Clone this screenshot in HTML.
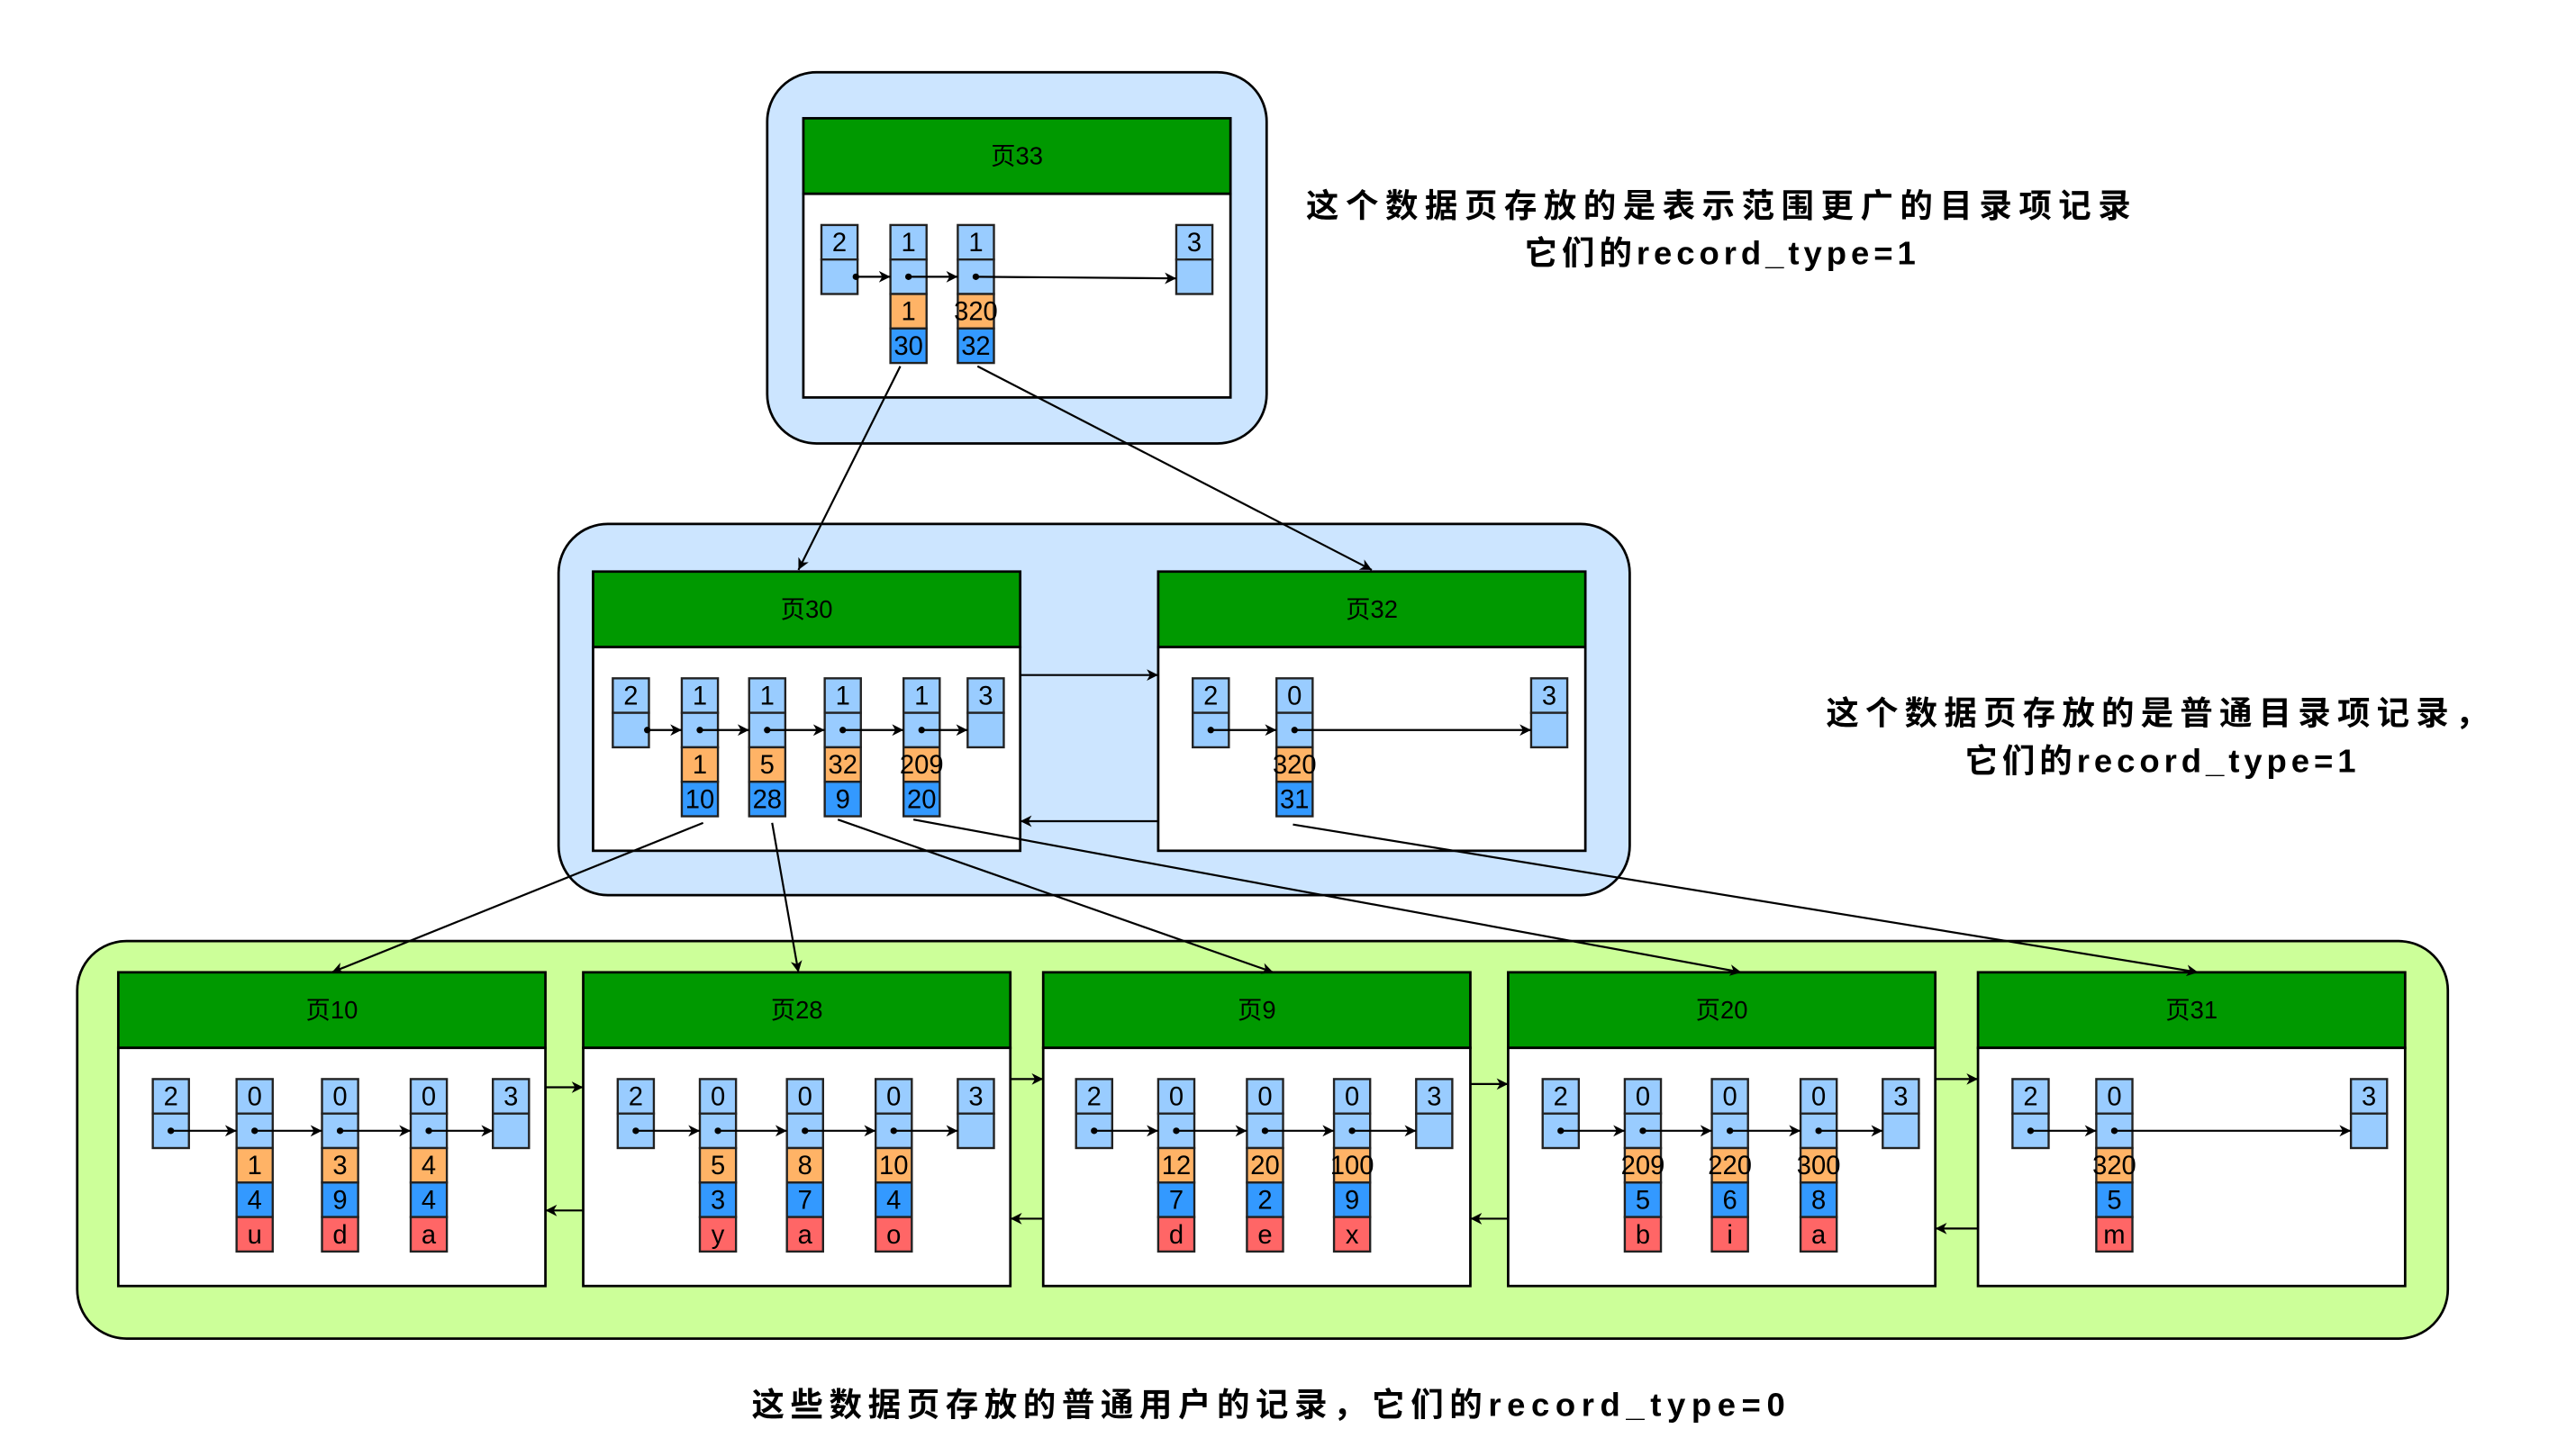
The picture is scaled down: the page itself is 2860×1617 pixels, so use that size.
<!DOCTYPE html>
<html><head><meta charset="utf-8"><style>
html,body{margin:0;padding:0;background:#fff;}
svg{display:block;}
text{font-family:"Liberation Sans","Noto Sans CJK SC",sans-serif;}
.n{font-size:16px;text-anchor:middle;fill:#000;}
.h{font-size:15px;text-anchor:middle;fill:#000;}
.t{font-size:20px;font-weight:bold;text-anchor:middle;fill:#000;}
.lb{fill:#99ccff;stroke:#222;stroke-width:1.3;}
.or{fill:#ffb366;stroke:#222;stroke-width:1.3;}
.bl{fill:#3399ff;stroke:#222;stroke-width:1.3;}
.rd{fill:#ff6666;stroke:#222;stroke-width:1.3;}
.ln{stroke:#000;stroke-width:1.2;fill:none;}
</style></head><body>
<svg width="2860" height="1617" viewBox="0 0 1568 886.5" preserveAspectRatio="none" xmlns="http://www.w3.org/2000/svg">
<defs><marker id="a" markerWidth="8" markerHeight="8" refX="7" refY="4" orient="auto" markerUnits="userSpaceOnUse"><path d="M0,0.5 L7,4 L0,7.5 L2,4 z" fill="#000"/></marker></defs>

<rect x="467" y="44" width="304" height="226" rx="30" fill="#cce5ff" stroke="#000" stroke-width="1.5"/>
<rect x="340" y="319" width="652" height="226" rx="30" fill="#cce5ff" stroke="#000" stroke-width="1.5"/>
<rect x="47" y="573" width="1443" height="242" rx="30" fill="#ccff99" stroke="#000" stroke-width="1.5"/>

<g stroke="#000" stroke-width="1.5">
<rect x="489" y="72" width="260" height="46" fill="#009900"/><rect x="489" y="118" width="260" height="124" fill="#fff"/>
<rect x="361" y="348" width="260" height="46" fill="#009900"/><rect x="361" y="394" width="260" height="124" fill="#fff"/>
<rect x="705" y="348" width="260" height="46" fill="#009900"/><rect x="705" y="394" width="260" height="124" fill="#fff"/>
<rect x="72" y="592" width="260" height="46" fill="#009900"/><rect x="72" y="638" width="260" height="145" fill="#fff"/>
<rect x="355" y="592" width="260" height="46" fill="#009900"/><rect x="355" y="638" width="260" height="145" fill="#fff"/>
<rect x="635" y="592" width="260" height="46" fill="#009900"/><rect x="635" y="638" width="260" height="145" fill="#fff"/>
<rect x="918" y="592" width="260" height="46" fill="#009900"/><rect x="918" y="638" width="260" height="145" fill="#fff"/>
<rect x="1204" y="592" width="260" height="46" fill="#009900"/><rect x="1204" y="638" width="260" height="145" fill="#fff"/>
</g>
<text class="h" x="619" y="100">页33</text>
<text class="h" x="491" y="376">页30</text>
<text class="h" x="835" y="376">页32</text>
<text class="h" x="202" y="620">页10</text>
<text class="h" x="485" y="620">页28</text>
<text class="h" x="765" y="620">页9</text>
<text class="h" x="1048" y="620">页20</text>
<text class="h" x="1334" y="620">页31</text>

<g>
<rect class="lb" x="500" y="137" width="22" height="21"/><rect class="lb" x="500" y="158" width="22" height="21"/>
<rect class="lb" x="542" y="137" width="22" height="21"/><rect class="lb" x="542" y="158" width="22" height="21"/><rect class="or" x="542" y="179" width="22" height="21"/><rect class="bl" x="542" y="200" width="22" height="21"/>
<rect class="lb" x="583" y="137" width="22" height="21"/><rect class="lb" x="583" y="158" width="22" height="21"/><rect class="or" x="583" y="179" width="22" height="21"/><rect class="bl" x="583" y="200" width="22" height="21"/>
<rect class="lb" x="716" y="137" width="22" height="21"/><rect class="lb" x="716" y="158" width="22" height="21"/>
</g>
<text class="n" x="511" y="153">2</text><text class="n" x="553" y="153">1</text><text class="n" x="594" y="153">1</text><text class="n" x="727" y="153">3</text>
<text class="n" x="553" y="195">1</text><text class="n" x="594" y="195">320</text>
<text class="n" x="553" y="216">30</text><text class="n" x="594" y="216">32</text>
<g fill="#000"><circle cx="521" cy="168.5" r="2"/><circle cx="553" cy="168.5" r="2"/><circle cx="594" cy="168.5" r="2"/></g>
<g class="ln" marker-end="url(#a)">
<line x1="521" y1="168.5" x2="542" y2="168.5"/><line x1="553" y1="168.5" x2="583" y2="168.5"/><line x1="594" y1="168.5" x2="716" y2="169.5"/>
</g>

<g>
<rect class="lb" x="373" y="413" width="22" height="21"/><rect class="lb" x="373" y="434" width="22" height="21"/>
<rect class="lb" x="415" y="413" width="22" height="21"/><rect class="lb" x="415" y="434" width="22" height="21"/><rect class="or" x="415" y="455" width="22" height="21"/><rect class="bl" x="415" y="476" width="22" height="21"/>
<rect class="lb" x="456" y="413" width="22" height="21"/><rect class="lb" x="456" y="434" width="22" height="21"/><rect class="or" x="456" y="455" width="22" height="21"/><rect class="bl" x="456" y="476" width="22" height="21"/>
<rect class="lb" x="502" y="413" width="22" height="21"/><rect class="lb" x="502" y="434" width="22" height="21"/><rect class="or" x="502" y="455" width="22" height="21"/><rect class="bl" x="502" y="476" width="22" height="21"/>
<rect class="lb" x="550" y="413" width="22" height="21"/><rect class="lb" x="550" y="434" width="22" height="21"/><rect class="or" x="550" y="455" width="22" height="21"/><rect class="bl" x="550" y="476" width="22" height="21"/>
<rect class="lb" x="589" y="413" width="22" height="21"/><rect class="lb" x="589" y="434" width="22" height="21"/>
</g>
<text class="n" x="384" y="429">2</text><text class="n" x="426" y="429">1</text><text class="n" x="467" y="429">1</text><text class="n" x="513" y="429">1</text><text class="n" x="561" y="429">1</text><text class="n" x="600" y="429">3</text>
<text class="n" x="426" y="471">1</text><text class="n" x="467" y="471">5</text><text class="n" x="513" y="471">32</text><text class="n" x="561" y="471">209</text>
<text class="n" x="426" y="492">10</text><text class="n" x="467" y="492">28</text><text class="n" x="513" y="492">9</text><text class="n" x="561" y="492">20</text>
<g fill="#000"><circle cx="394" cy="444.5" r="2"/><circle cx="426" cy="444.5" r="2"/><circle cx="467" cy="444.5" r="2"/><circle cx="513" cy="444.5" r="2"/><circle cx="561" cy="444.5" r="2"/></g>
<g class="ln" marker-end="url(#a)">
<line x1="394" y1="444.5" x2="415" y2="444.5"/><line x1="426" y1="444.5" x2="456" y2="444.5"/><line x1="467" y1="444.5" x2="502" y2="444.5"/><line x1="513" y1="444.5" x2="550" y2="444.5"/><line x1="561" y1="444.5" x2="589" y2="444.5"/>
</g>

<g>
<rect class="lb" x="726" y="413" width="22" height="21"/><rect class="lb" x="726" y="434" width="22" height="21"/>
<rect class="lb" x="777" y="413" width="22" height="21"/><rect class="lb" x="777" y="434" width="22" height="21"/><rect class="or" x="777" y="455" width="22" height="21"/><rect class="bl" x="777" y="476" width="22" height="21"/>
<rect class="lb" x="932" y="413" width="22" height="21"/><rect class="lb" x="932" y="434" width="22" height="21"/>
</g>
<text class="n" x="737" y="429">2</text><text class="n" x="788" y="429">0</text><text class="n" x="943" y="429">3</text>
<text class="n" x="788" y="471">320</text><text class="n" x="788" y="492">31</text>
<g fill="#000"><circle cx="737" cy="444.5" r="2"/><circle cx="788" cy="444.5" r="2"/></g>
<g class="ln" marker-end="url(#a)">
<line x1="737" y1="444.5" x2="777" y2="444.5"/><line x1="788" y1="444.5" x2="932" y2="444.5"/>
<line x1="621" y1="411" x2="705" y2="411"/><line x1="705" y1="500" x2="621" y2="500"/>
</g>

<g>
<rect class="lb" x="93" y="657" width="22" height="21"/><rect class="lb" x="93" y="678" width="22" height="21"/>
<rect class="lb" x="144" y="657" width="22" height="21"/><rect class="lb" x="144" y="678" width="22" height="21"/><rect class="or" x="144" y="699" width="22" height="21"/><rect class="bl" x="144" y="720" width="22" height="21"/><rect class="rd" x="144" y="741" width="22" height="21"/>
<rect class="lb" x="196" y="657" width="22" height="21"/><rect class="lb" x="196" y="678" width="22" height="21"/><rect class="or" x="196" y="699" width="22" height="21"/><rect class="bl" x="196" y="720" width="22" height="21"/><rect class="rd" x="196" y="741" width="22" height="21"/>
<rect class="lb" x="250" y="657" width="22" height="21"/><rect class="lb" x="250" y="678" width="22" height="21"/><rect class="or" x="250" y="699" width="22" height="21"/><rect class="bl" x="250" y="720" width="22" height="21"/><rect class="rd" x="250" y="741" width="22" height="21"/>
<rect class="lb" x="300" y="657" width="22" height="21"/><rect class="lb" x="300" y="678" width="22" height="21"/>
<rect class="lb" x="376" y="657" width="22" height="21"/><rect class="lb" x="376" y="678" width="22" height="21"/>
<rect class="lb" x="426" y="657" width="22" height="21"/><rect class="lb" x="426" y="678" width="22" height="21"/><rect class="or" x="426" y="699" width="22" height="21"/><rect class="bl" x="426" y="720" width="22" height="21"/><rect class="rd" x="426" y="741" width="22" height="21"/>
<rect class="lb" x="479" y="657" width="22" height="21"/><rect class="lb" x="479" y="678" width="22" height="21"/><rect class="or" x="479" y="699" width="22" height="21"/><rect class="bl" x="479" y="720" width="22" height="21"/><rect class="rd" x="479" y="741" width="22" height="21"/>
<rect class="lb" x="533" y="657" width="22" height="21"/><rect class="lb" x="533" y="678" width="22" height="21"/><rect class="or" x="533" y="699" width="22" height="21"/><rect class="bl" x="533" y="720" width="22" height="21"/><rect class="rd" x="533" y="741" width="22" height="21"/>
<rect class="lb" x="583" y="657" width="22" height="21"/><rect class="lb" x="583" y="678" width="22" height="21"/>
<rect class="lb" x="655" y="657" width="22" height="21"/><rect class="lb" x="655" y="678" width="22" height="21"/>
<rect class="lb" x="705" y="657" width="22" height="21"/><rect class="lb" x="705" y="678" width="22" height="21"/><rect class="or" x="705" y="699" width="22" height="21"/><rect class="bl" x="705" y="720" width="22" height="21"/><rect class="rd" x="705" y="741" width="22" height="21"/>
<rect class="lb" x="759" y="657" width="22" height="21"/><rect class="lb" x="759" y="678" width="22" height="21"/><rect class="or" x="759" y="699" width="22" height="21"/><rect class="bl" x="759" y="720" width="22" height="21"/><rect class="rd" x="759" y="741" width="22" height="21"/>
<rect class="lb" x="812" y="657" width="22" height="21"/><rect class="lb" x="812" y="678" width="22" height="21"/><rect class="or" x="812" y="699" width="22" height="21"/><rect class="bl" x="812" y="720" width="22" height="21"/><rect class="rd" x="812" y="741" width="22" height="21"/>
<rect class="lb" x="862" y="657" width="22" height="21"/><rect class="lb" x="862" y="678" width="22" height="21"/>
<rect class="lb" x="939" y="657" width="22" height="21"/><rect class="lb" x="939" y="678" width="22" height="21"/>
<rect class="lb" x="989" y="657" width="22" height="21"/><rect class="lb" x="989" y="678" width="22" height="21"/><rect class="or" x="989" y="699" width="22" height="21"/><rect class="bl" x="989" y="720" width="22" height="21"/><rect class="rd" x="989" y="741" width="22" height="21"/>
<rect class="lb" x="1042" y="657" width="22" height="21"/><rect class="lb" x="1042" y="678" width="22" height="21"/><rect class="or" x="1042" y="699" width="22" height="21"/><rect class="bl" x="1042" y="720" width="22" height="21"/><rect class="rd" x="1042" y="741" width="22" height="21"/>
<rect class="lb" x="1096" y="657" width="22" height="21"/><rect class="lb" x="1096" y="678" width="22" height="21"/><rect class="or" x="1096" y="699" width="22" height="21"/><rect class="bl" x="1096" y="720" width="22" height="21"/><rect class="rd" x="1096" y="741" width="22" height="21"/>
<rect class="lb" x="1146" y="657" width="22" height="21"/><rect class="lb" x="1146" y="678" width="22" height="21"/>
<rect class="lb" x="1225" y="657" width="22" height="21"/><rect class="lb" x="1225" y="678" width="22" height="21"/>
<rect class="lb" x="1276" y="657" width="22" height="21"/><rect class="lb" x="1276" y="678" width="22" height="21"/><rect class="or" x="1276" y="699" width="22" height="21"/><rect class="bl" x="1276" y="720" width="22" height="21"/><rect class="rd" x="1276" y="741" width="22" height="21"/>
<rect class="lb" x="1431" y="657" width="22" height="21"/><rect class="lb" x="1431" y="678" width="22" height="21"/>
</g>
<g>
<text class="n" x="104" y="673">2</text><text class="n" x="155" y="673">0</text><text class="n" x="207" y="673">0</text><text class="n" x="261" y="673">0</text><text class="n" x="311" y="673">3</text>
<text class="n" x="155" y="715">1</text><text class="n" x="207" y="715">3</text><text class="n" x="261" y="715">4</text>
<text class="n" x="155" y="736">4</text><text class="n" x="207" y="736">9</text><text class="n" x="261" y="736">4</text>
<text class="n" x="155" y="757">u</text><text class="n" x="207" y="757">d</text><text class="n" x="261" y="757">a</text>

<text class="n" x="387" y="673">2</text><text class="n" x="437" y="673">0</text><text class="n" x="490" y="673">0</text><text class="n" x="544" y="673">0</text><text class="n" x="594" y="673">3</text>
<text class="n" x="437" y="715">5</text><text class="n" x="490" y="715">8</text><text class="n" x="544" y="715">10</text>
<text class="n" x="437" y="736">3</text><text class="n" x="490" y="736">7</text><text class="n" x="544" y="736">4</text>
<text class="n" x="437" y="757">y</text><text class="n" x="490" y="757">a</text><text class="n" x="544" y="757">o</text>

<text class="n" x="666" y="673">2</text><text class="n" x="716" y="673">0</text><text class="n" x="770" y="673">0</text><text class="n" x="823" y="673">0</text><text class="n" x="873" y="673">3</text>
<text class="n" x="716" y="715">12</text><text class="n" x="770" y="715">20</text><text class="n" x="823" y="715">100</text>
<text class="n" x="716" y="736">7</text><text class="n" x="770" y="736">2</text><text class="n" x="823" y="736">9</text>
<text class="n" x="716" y="757">d</text><text class="n" x="770" y="757">e</text><text class="n" x="823" y="757">x</text>

<text class="n" x="950" y="673">2</text><text class="n" x="1000" y="673">0</text><text class="n" x="1053" y="673">0</text><text class="n" x="1107" y="673">0</text><text class="n" x="1157" y="673">3</text>
<text class="n" x="1000" y="715">209</text><text class="n" x="1053" y="715">220</text><text class="n" x="1107" y="715">300</text>
<text class="n" x="1000" y="736">5</text><text class="n" x="1053" y="736">6</text><text class="n" x="1107" y="736">8</text>
<text class="n" x="1000" y="757">b</text><text class="n" x="1053" y="757">i</text><text class="n" x="1107" y="757">a</text>

<text class="n" x="1236" y="673">2</text><text class="n" x="1287" y="673">0</text><text class="n" x="1442" y="673">3</text>
<text class="n" x="1287" y="715">320</text><text class="n" x="1287" y="736">5</text><text class="n" x="1287" y="757">m</text>
</g>
<g fill="#000">
<circle cx="104" cy="688.5" r="2"/><circle cx="155" cy="688.5" r="2"/><circle cx="207" cy="688.5" r="2"/><circle cx="261" cy="688.5" r="2"/>
<circle cx="387" cy="688.5" r="2"/><circle cx="437" cy="688.5" r="2"/><circle cx="490" cy="688.5" r="2"/><circle cx="544" cy="688.5" r="2"/>
<circle cx="666" cy="688.5" r="2"/><circle cx="716" cy="688.5" r="2"/><circle cx="770" cy="688.5" r="2"/><circle cx="823" cy="688.5" r="2"/>
<circle cx="950" cy="688.5" r="2"/><circle cx="1000" cy="688.5" r="2"/><circle cx="1053" cy="688.5" r="2"/><circle cx="1107" cy="688.5" r="2"/>
<circle cx="1236" cy="688.5" r="2"/><circle cx="1287" cy="688.5" r="2"/>
</g>
<g class="ln" marker-end="url(#a)">
<line x1="104" y1="688.5" x2="144" y2="688.5"/><line x1="155" y1="688.5" x2="196" y2="688.5"/><line x1="207" y1="688.5" x2="250" y2="688.5"/><line x1="261" y1="688.5" x2="300" y2="688.5"/>
<line x1="387" y1="688.5" x2="426" y2="688.5"/><line x1="437" y1="688.5" x2="479" y2="688.5"/><line x1="490" y1="688.5" x2="533" y2="688.5"/><line x1="544" y1="688.5" x2="583" y2="688.5"/>
<line x1="666" y1="688.5" x2="705" y2="688.5"/><line x1="716" y1="688.5" x2="759" y2="688.5"/><line x1="770" y1="688.5" x2="812" y2="688.5"/><line x1="823" y1="688.5" x2="862" y2="688.5"/>
<line x1="950" y1="688.5" x2="989" y2="688.5"/><line x1="1000" y1="688.5" x2="1042" y2="688.5"/><line x1="1053" y1="688.5" x2="1096" y2="688.5"/><line x1="1107" y1="688.5" x2="1146" y2="688.5"/>
<line x1="1236" y1="688.5" x2="1276" y2="688.5"/><line x1="1287" y1="688.5" x2="1431" y2="688.5"/>
<line x1="332" y1="662" x2="355" y2="662"/><line x1="355" y1="737" x2="332" y2="737"/>
<line x1="615" y1="657" x2="635" y2="657"/><line x1="635" y1="742" x2="615" y2="742"/>
<line x1="895" y1="660" x2="918" y2="660"/><line x1="918" y1="742" x2="895" y2="742"/>
<line x1="1178" y1="657" x2="1204" y2="657"/><line x1="1204" y1="748" x2="1178" y2="748"/>
<line x1="548" y1="223" x2="486" y2="347"/>
<line x1="595" y1="223" x2="835" y2="347"/>
<line x1="428" y1="501" x2="202" y2="592"/>
<line x1="470" y1="501" x2="486" y2="592"/>
<line x1="510" y1="499" x2="775" y2="592"/>
<line x1="556" y1="499" x2="1060" y2="592"/>
<line x1="787" y1="502" x2="1338" y2="592"/>
</g>

<text class="t" x="1046" y="132" textLength="502" lengthAdjust="spacing">这个数据页存放的是表示范围更广的目录项记录</text>
<text class="t" x="1047" y="161" textLength="238" lengthAdjust="spacing">它们的record_type=1</text>
<text class="t" x="1313" y="441" textLength="403" lengthAdjust="spacing">这个数据页存放的是普通目录项记录，</text>
<text class="t" x="1315" y="470" textLength="238" lengthAdjust="spacing">它们的record_type=1</text>
<text class="t" x="772" y="862" textLength="629" lengthAdjust="spacing">这些数据页存放的普通用户的记录，它们的record_type=0</text>
</svg>
</body></html>
